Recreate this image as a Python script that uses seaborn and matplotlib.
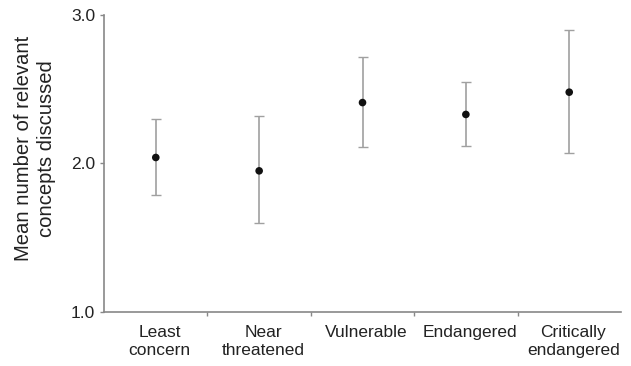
import matplotlib
matplotlib.use("Agg")
import matplotlib.pyplot as plt
import matplotlib.transforms as mtransforms
import seaborn as sns
import numpy as np
import pandas as pd

categories = ["Least\nconcern", "Near\nthreatened", "Vulnerable", "Endangered", "Critically\nendangered"]
means = [2.04, 1.95, 2.41, 2.33, 2.48]
upper = [2.30, 2.32, 2.72, 2.55, 2.90]
lower = [1.79, 1.60, 2.11, 2.12, 2.07]

sns.set_theme(style="white")
plt.rcParams['font.family'] = ['Liberation Sans', 'DejaVu Sans']

fig = plt.figure(figsize=(6.31, 3.66), dpi=100)
ax = fig.add_axes([0.165, 0.148, 0.819, 0.811])

df = pd.DataFrame({"cat": categories, "mean": means, "lo": lower, "hi": upper})
x = np.arange(len(categories))
yerr = [np.array(means) - np.array(lower), np.array(upper) - np.array(means)]
ax.errorbar(x, df["mean"], yerr=yerr, fmt="none", ecolor="#a0a0a0", elinewidth=1.2,
            capsize=3.5, capthick=1.0, zorder=2)
sns.scatterplot(data=df, x="cat", y="mean", color="#111111", s=30, edgecolor="none", ax=ax, zorder=3)

ax.set_xlim(-0.5, len(categories) - 0.5)
ax.set_ylim(1.0, 3.0)
ax.set_yticks([1.0, 2.0, 3.0])
ax.set_yticklabels(["1.0", "2.0", "3.0"], fontsize=12.5, color="#222222")
ax.set_xticks(x)
ax.set_xticklabels(categories, fontsize=12.5, linespacing=1.28, color="#222222")
ax.set_xticks(np.arange(0.5, len(categories) - 1, 1.0), minor=True)
ax.tick_params(axis="x", which="major", length=0, pad=9.5)
ax.tick_params(axis="x", which="minor", length=3, color="#888888", width=1, direction="out", bottom=True)
ax.tick_params(axis="y", which="major", length=3, color="#888888", width=1, direction="out", left=True, pad=3.5)
offset = mtransforms.ScaledTranslation(4 / 100, 0, fig.dpi_scale_trans)
for lab in ax.get_xticklabels():
    lab.set_transform(lab.get_transform() + offset)
ax.set_xlabel("")
ax.set_ylabel("Mean number of relevant\nconcepts discussed", fontsize=14.6, linespacing=1.25, color="#222222")
ax.yaxis.set_label_coords(-0.094, 0.55)

for s in ["top", "right"]:
    ax.spines[s].set_visible(False)
for s in ["left", "bottom"]:
    ax.spines[s].set_color("#888888")
    ax.spines[s].set_linewidth(1.2)

fig.savefig("out.png", dpi=100)
